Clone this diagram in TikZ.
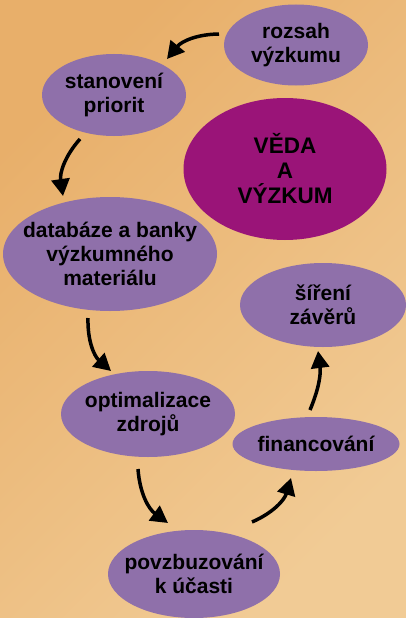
\documentclass[tikz,border=0pt]{standalone}
\usepackage{fontspec}
\setmainfont{Liberation Sans}
\usetikzlibrary{arrows.meta}
\definecolor{bgA}{HTML}{E8AF6A}
\definecolor{bgB}{HTML}{F1CB95}
\definecolor{lav}{HTML}{8F70AA}
\definecolor{mag}{HTML}{9A1478}
\tikzset{
  bubfill/.style={fill=lav},
  bigfill/.style={fill=mag},
  txt/.style={inner sep=0pt, align=center,
    font=\fontsize{21}{24}\selectfont\bfseries, text=black},
  bigtxt/.style={inner sep=0pt, align=center,
    font=\fontsize{22.5}{25}\selectfont\bfseries, text=black},
  flow/.style={line width=3.5pt, -{Triangle[length=17pt,width=18pt]}, bend right=25}
}
\begin{document}
\begin{tikzpicture}[x=1pt,y=-1pt]
\useasboundingbox (0,0) rectangle (406,618);
\shade[top color=bgA, bottom color=bgB, shading angle=45] (0,0) rectangle (406,618);

\fill[bubfill] (296,45) ellipse [x radius=72, y radius=40.5];
\fill[bubfill] (114,95) ellipse [x radius=72, y radius=41];
\fill[bigfill] (285,169) ellipse [x radius=101.5, y radius=71];
\fill[bubfill] (110,254) ellipse [x radius=107, y radius=57];
\fill[bubfill] (323,305) ellipse [x radius=83, y radius=42];
\fill[bubfill] (148,414) ellipse [x radius=87, y radius=43];
\fill[bubfill] (316,444) ellipse [x radius=83.5, y radius=27];
\fill[bubfill] (194,574) ellipse [x radius=86, y radius=44];

\node[txt] (roz) at (296,45) {rozsah\\výzkumu};
\node[txt] (sta) at (114,95) {stanovení\\priorit};
\node[bigtxt] (veda) at (285,169) {VĚDA\\A\\VÝZKUM};
\node[txt] (dat) at (110,254) {databáze a banky\\výzkumného\\materiálu};
\node[txt] (sir) at (323,305) {šíření\\závěrů};
\node[txt] (opt) at (148,414) {optimalizace\\zdrojů};
\node[txt] (fin) at (316,444) {financování};
\node[txt] (pov) at (194,574) {povzbuzování\\k účasti};

\coordinate (a1s) at (219,34);  \coordinate (a1e) at (167,59);
\coordinate (a2s) at (80,139);  \coordinate (a2e) at (63,196);
\coordinate (a3s) at (88,318);  \coordinate (a3e) at (111,371);
\coordinate (a4s) at (138,469); \coordinate (a4e) at (168,523);
\coordinate (a5s) at (252,522); \coordinate (a5e) at (291,478);
\coordinate (a6s) at (310,410); \coordinate (a6e) at (318,351);

\draw[flow] (a1s) to (a1e);
\draw[flow] (a2s) to (a2e);
\draw[flow] (a3s) to (a3e);
\draw[flow] (a4s) to (a4e);
\draw[flow] (a5s) to (a5e);
\draw[flow, bend right=15] (a6s) to (a6e);
\end{tikzpicture}
\end{document}
